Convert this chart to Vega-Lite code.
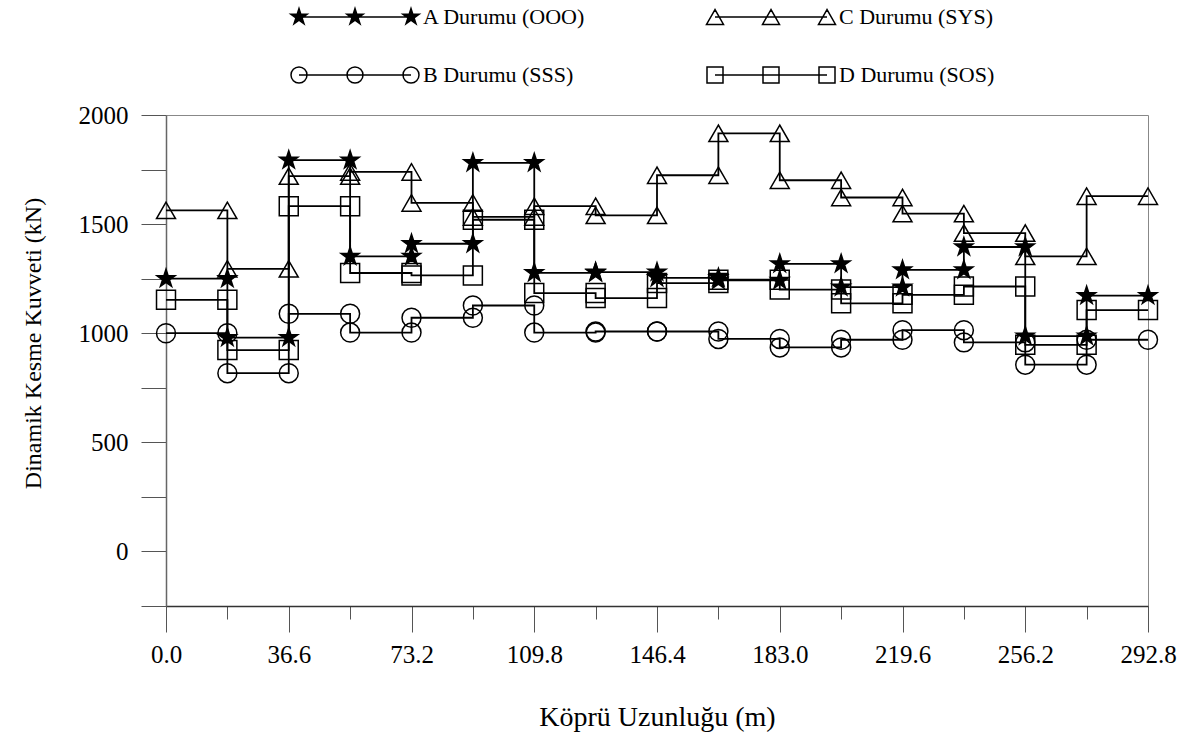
{
  "$schema": "https://vega.github.io/schema/vega-lite/v6.json",
  "autosize": {"type": "none"},
  "padding": {"left": 166, "top": 115, "right": 42, "bottom": 132},
  "width": 982,
  "height": 491,
  "background": "white",
  "config": {"view": {"stroke": "#888", "strokeWidth": 1}, "font": "Liberation Serif"},
  "resolve": {"scale": {"shape": "independent", "fill": "independent"}},
  "data": {"values": [
    {"s":"A","x":0,"y":1250,"o":0},{"s":"A","x":18.3,"y":1250,"o":1},
    {"s":"A","x":18.3,"y":980,"o":2},{"s":"A","x":36.6,"y":980,"o":3},
    {"s":"A","x":36.6,"y":1793,"o":4},{"s":"A","x":54.9,"y":1793,"o":5},
    {"s":"A","x":54.9,"y":1352,"o":6},{"s":"A","x":73.2,"y":1352,"o":7},
    {"s":"A","x":73.2,"y":1410,"o":8},{"s":"A","x":91.5,"y":1410,"o":9},
    {"s":"A","x":91.5,"y":1781,"o":10},{"s":"A","x":109.8,"y":1781,"o":11},
    {"s":"A","x":109.8,"y":1277,"o":12},{"s":"A","x":128.1,"y":1277,"o":13},
    {"s":"A","x":128.1,"y":1280,"o":14},{"s":"A","x":146.4,"y":1280,"o":15},
    {"s":"A","x":146.4,"y":1254,"o":16},{"s":"A","x":164.7,"y":1254,"o":17},
    {"s":"A","x":164.7,"y":1242,"o":18},{"s":"A","x":183,"y":1242,"o":19},
    {"s":"A","x":183,"y":1318,"o":20},{"s":"A","x":201.3,"y":1318,"o":21},
    {"s":"A","x":201.3,"y":1211,"o":22},{"s":"A","x":219.6,"y":1211,"o":23},
    {"s":"A","x":219.6,"y":1290,"o":24},{"s":"A","x":237.9,"y":1290,"o":25},
    {"s":"A","x":237.9,"y":1395,"o":26},{"s":"A","x":256.2,"y":1395,"o":27},
    {"s":"A","x":256.2,"y":987,"o":28},{"s":"A","x":274.5,"y":987,"o":29},
    {"s":"A","x":274.5,"y":1172,"o":30},{"s":"A","x":292.8,"y":1172,"o":31},

    {"s":"B","x":0,"y":1000,"o":0},{"s":"B","x":18.3,"y":1000,"o":1},
    {"s":"B","x":18.3,"y":817,"o":2},{"s":"B","x":36.6,"y":817,"o":3},
    {"s":"B","x":36.6,"y":1089,"o":4},{"s":"B","x":54.9,"y":1089,"o":5},
    {"s":"B","x":54.9,"y":1003,"o":6},{"s":"B","x":73.2,"y":1003,"o":7},
    {"s":"B","x":73.2,"y":1071,"o":8},{"s":"B","x":91.5,"y":1071,"o":9},
    {"s":"B","x":91.5,"y":1127,"o":10},{"s":"B","x":109.8,"y":1127,"o":11},
    {"s":"B","x":109.8,"y":1003,"o":12},{"s":"B","x":128.1,"y":1003,"o":13},
    {"s":"B","x":128.1,"y":1008,"o":14},{"s":"B","x":146.4,"y":1008,"o":15},
    {"s":"B","x":146.4,"y":1008,"o":16},{"s":"B","x":164.7,"y":1008,"o":17},
    {"s":"B","x":164.7,"y":974,"o":18},{"s":"B","x":183,"y":974,"o":19},
    {"s":"B","x":183,"y":935,"o":20},{"s":"B","x":201.3,"y":935,"o":21},
    {"s":"B","x":201.3,"y":970,"o":22},{"s":"B","x":219.6,"y":970,"o":23},
    {"s":"B","x":219.6,"y":1014,"o":24},{"s":"B","x":237.9,"y":1014,"o":25},
    {"s":"B","x":237.9,"y":958,"o":26},{"s":"B","x":256.2,"y":958,"o":27},
    {"s":"B","x":256.2,"y":856,"o":28},{"s":"B","x":274.5,"y":856,"o":29},
    {"s":"B","x":274.5,"y":970,"o":30},{"s":"B","x":292.8,"y":970,"o":31},

    {"s":"C","x":0,"y":1563,"o":0},{"s":"C","x":18.3,"y":1563,"o":1},
    {"s":"C","x":18.3,"y":1295,"o":2},{"s":"C","x":36.6,"y":1295,"o":3},
    {"s":"C","x":36.6,"y":1720,"o":4},{"s":"C","x":54.9,"y":1720,"o":5},
    {"s":"C","x":54.9,"y":1739,"o":6},{"s":"C","x":73.2,"y":1739,"o":7},
    {"s":"C","x":73.2,"y":1597,"o":8},{"s":"C","x":91.5,"y":1597,"o":9},
    {"s":"C","x":91.5,"y":1533,"o":10},{"s":"C","x":109.8,"y":1533,"o":11},
    {"s":"C","x":109.8,"y":1582,"o":12},{"s":"C","x":128.1,"y":1582,"o":13},
    {"s":"C","x":128.1,"y":1540,"o":14},{"s":"C","x":146.4,"y":1540,"o":15},
    {"s":"C","x":146.4,"y":1724,"o":16},{"s":"C","x":164.7,"y":1724,"o":17},
    {"s":"C","x":164.7,"y":1916,"o":18},{"s":"C","x":183,"y":1916,"o":19},
    {"s":"C","x":183,"y":1701,"o":20},{"s":"C","x":201.3,"y":1701,"o":21},
    {"s":"C","x":201.3,"y":1622,"o":22},{"s":"C","x":219.6,"y":1622,"o":23},
    {"s":"C","x":219.6,"y":1548,"o":24},{"s":"C","x":237.9,"y":1548,"o":25},
    {"s":"C","x":237.9,"y":1459,"o":26},{"s":"C","x":256.2,"y":1459,"o":27},
    {"s":"C","x":256.2,"y":1352,"o":28},{"s":"C","x":274.5,"y":1352,"o":29},
    {"s":"C","x":274.5,"y":1628,"o":30},{"s":"C","x":292.8,"y":1628,"o":31},

    {"s":"D","x":0,"y":1153,"o":0},{"s":"D","x":18.3,"y":1153,"o":1},
    {"s":"D","x":18.3,"y":923,"o":2},{"s":"D","x":36.6,"y":923,"o":3},
    {"s":"D","x":36.6,"y":1582,"o":4},{"s":"D","x":54.9,"y":1582,"o":5},
    {"s":"D","x":54.9,"y":1276,"o":6},{"s":"D","x":73.2,"y":1276,"o":7},
    {"s":"D","x":73.2,"y":1265,"o":8},{"s":"D","x":91.5,"y":1265,"o":9},
    {"s":"D","x":91.5,"y":1520,"o":10},{"s":"D","x":109.8,"y":1520,"o":11},
    {"s":"D","x":109.8,"y":1184,"o":12},{"s":"D","x":128.1,"y":1184,"o":13},
    {"s":"D","x":128.1,"y":1161,"o":14},{"s":"D","x":146.4,"y":1161,"o":15},
    {"s":"D","x":146.4,"y":1230,"o":16},{"s":"D","x":164.7,"y":1230,"o":17},
    {"s":"D","x":164.7,"y":1245,"o":18},{"s":"D","x":183,"y":1245,"o":19},
    {"s":"D","x":183,"y":1200,"o":20},{"s":"D","x":201.3,"y":1200,"o":21},
    {"s":"D","x":201.3,"y":1137,"o":22},{"s":"D","x":219.6,"y":1137,"o":23},
    {"s":"D","x":219.6,"y":1176,"o":24},{"s":"D","x":237.9,"y":1176,"o":25},
    {"s":"D","x":237.9,"y":1214,"o":26},{"s":"D","x":256.2,"y":1214,"o":27},
    {"s":"D","x":256.2,"y":947,"o":28},{"s":"D","x":274.5,"y":947,"o":29},
    {"s":"D","x":274.5,"y":1106,"o":30},{"s":"D","x":292.8,"y":1106,"o":31}
  ]},
  "layer": [
    {
      "mark": {"type": "line", "color": "black", "strokeWidth": 1.8},
      "encoding": {
        "x": {
          "field": "x", "type": "quantitative",
          "scale": {"domain": [0, 292.8], "nice": false, "zero": false},
          "axis": {
            "title": "Köprü Uzunluğu (m)",
            "values": [0, 18.3, 36.6, 54.9, 73.2, 91.5, 109.8, 128.1, 146.4, 164.7, 183, 201.3, 219.6, 237.9, 256.2, 274.5, 292.8],
            "format": ".1f",
            "labelExpr": "round(datum.value/18.3) % 2 == 0 ? datum.label : ''",
            "tickSize": {"condition": {"test": "round(datum.value/18.3) % 2 == 0", "value": 26}, "value": 13},
            "tickColor": "#555", "tickWidth": 1,
            "domainColor": "#333", "domainWidth": 1.5,
            "labelFont": "Liberation Serif", "labelFontSize": 25, "labelColor": "black",
            "labelPadding": 10, "labelFlush": false, "labelOverlap": false,
            "grid": false,
            "titleFont": "Liberation Serif", "titleFontSize": 28, "titleFontWeight": "normal", "titleColor": "black",
            "titleY": 111, "titleBaseline": "middle"
          }
        },
        "y": {
          "field": "y", "type": "quantitative",
          "scale": {"domain": [-250, 2000], "nice": false, "zero": false},
          "axis": {
            "title": "Dinamik Kesme Kuvveti (kN)",
            "values": [-250, 0, 250, 500, 750, 1000, 1250, 1500, 1750, 2000],
            "format": "d",
            "labelExpr": "datum.value >= 0 && datum.value % 500 == 0 ? datum.label : ''",
            "tickSize": 25, "tickColor": "#555", "tickWidth": 1,
            "domainColor": "#666", "domainWidth": 1.5,
            "labelFont": "Liberation Serif", "labelFontSize": 25, "labelColor": "black",
            "labelPadding": 13, "labelFlush": false, "labelOverlap": false,
            "grid": false,
            "titleFont": "Liberation Serif", "titleFontSize": 24, "titleFontWeight": "normal", "titleColor": "black",
            "titleX": -133, "titleY": 228, "titleBaseline": "middle"
          }
        },
        "detail": {"field": "s"},
        "order": {"field": "o", "type": "quantitative"}
      }
    },
    {
      "mark": {"type": "point", "filled": false, "stroke": "black", "strokeWidth": 1.5, "size": 360, "opacity": 1},
      "encoding": {
        "x": {"field": "x", "type": "quantitative"},
        "y": {"field": "y", "type": "quantitative"},
        "shape": {
          "field": "s", "type": "nominal",
          "scale": {"domain": ["A", "B", "C", "D"], "range": ["M0,-1L0.2245,-0.309L0.951,-0.309L0.363,0.118L0.588,0.809L0,0.382L-0.588,0.809L-0.363,0.118L-0.951,-0.309L-0.2245,-0.309Z", "circle", "triangle-up", "square"]},
          "legend": null
        },
        "fill": {
          "field": "s", "type": "nominal",
          "scale": {"domain": ["A", "B", "C", "D"], "range": ["black", "transparent", "transparent", "transparent"]},
          "legend": null
        }
      }
    },
    {
      "transform": [{"filter": "datum.o < 0"}],
      "mark": {"type": "point", "filled": false, "stroke": "black", "strokeWidth": 1.5, "size": 400, "opacity": 1},
      "encoding": {
        "x": {"field": "x", "type": "quantitative"},
        "y": {"field": "y", "type": "quantitative"},
        "shape": {
          "field": "s", "type": "nominal",
          "scale": {"domain": ["A", "B", "C", "D"], "range": [
            "M0,0L11.2,0M0,-0.85l0.191,0.587l0.618,0l-0.5,0.363l0.191,0.587l-0.5,-0.363l-0.5,0.363l0.191,-0.587l-0.5,-0.363l0.618,0zM0,-0.65l0.146,0.449l0.472,0l-0.382,0.278l0.146,0.449l-0.382,-0.278l-0.382,0.278l0.146,-0.449l-0.382,-0.278l0.472,0zM0,-0.45l0.101,0.311l0.327,0l-0.265,0.192l0.101,0.311l-0.265,-0.192l-0.265,0.192l0.101,-0.311l-0.265,-0.192l0.327,0zM0,-0.25l0.056,0.173l0.182,0l-0.147,0.107l0.056,0.173l-0.147,-0.107l-0.147,0.107l0.056,-0.173l-0.147,-0.107l0.182,0zM0,-0.1l0.022,0.069l0.073,0l-0.059,0.043l0.023,0.069l-0.059,-0.043l-0.059,0.043l0.023,-0.069l-0.059,-0.043l0.073,0zM5.6,-0.85l0.191,0.587l0.618,0l-0.5,0.363l0.191,0.587l-0.5,-0.363l-0.5,0.363l0.191,-0.587l-0.5,-0.363l0.618,0zM5.6,-0.65l0.146,0.449l0.472,0l-0.382,0.278l0.146,0.449l-0.382,-0.278l-0.382,0.278l0.146,-0.449l-0.382,-0.278l0.472,0zM5.6,-0.45l0.101,0.311l0.327,0l-0.265,0.192l0.101,0.311l-0.265,-0.192l-0.265,0.192l0.101,-0.311l-0.265,-0.192l0.327,0zM5.6,-0.25l0.056,0.173l0.182,0l-0.147,0.107l0.056,0.173l-0.147,-0.107l-0.147,0.107l0.056,-0.173l-0.147,-0.107l0.182,0zM5.6,-0.1l0.022,0.069l0.073,0l-0.059,0.043l0.023,0.069l-0.059,-0.043l-0.059,0.043l0.023,-0.069l-0.059,-0.043l0.073,0zM11.2,-0.85l0.191,0.587l0.618,0l-0.5,0.363l0.191,0.587l-0.5,-0.363l-0.5,0.363l0.191,-0.587l-0.5,-0.363l0.618,0zM11.2,-0.65l0.146,0.449l0.472,0l-0.382,0.278l0.146,0.449l-0.382,-0.278l-0.382,0.278l0.146,-0.449l-0.382,-0.278l0.472,0zM11.2,-0.45l0.101,0.311l0.327,0l-0.265,0.192l0.101,0.311l-0.265,-0.192l-0.265,0.192l0.101,-0.311l-0.265,-0.192l0.327,0zM11.2,-0.25l0.056,0.173l0.182,0l-0.147,0.107l0.056,0.173l-0.147,-0.107l-0.147,0.107l0.056,-0.173l-0.147,-0.107l0.182,0zM11.2,-0.1l0.022,0.069l0.073,0l-0.059,0.043l0.023,0.069l-0.059,-0.043l-0.059,0.043l0.023,-0.069l-0.059,-0.043l0.073,0z",
            "M0,0L11.2,0M0.8,0A0.8,0.8,0,1,1,-0.8,0A0.8,0.8,0,1,1,0.8,0ZM6.4,0A0.8,0.8,0,1,1,4.8,0A0.8,0.8,0,1,1,6.4,0ZM12,0A0.8,0.8,0,1,1,10.4,0A0.8,0.8,0,1,1,12,0Z",
            "M0,0L11.2,0M0,-0.74L-0.85,0.74L0.85,0.74ZM5.6,-0.74L4.75,0.74L6.45,0.74ZM11.2,-0.74L10.35,0.74L12.05,0.74Z",
            "M0,0L11.2,0M-0.8,-0.8L0.8,-0.8L0.8,0.8L-0.8,0.8ZM4.8,-0.8L6.4,-0.8L6.4,0.8L4.8,0.8ZM10.4,-0.8L12,-0.8L12,0.8L10.4,0.8Z"
          ]},
          "legend": {
            "title": null, "orient": "none", "legendX": 122, "legendY": -109,
            "values": ["A", "B", "C", "D"],
            "columns": 2, "columnPadding": 117, "rowPadding": 36, "padding": 0,
            "symbolSize": 400, "symbolStrokeWidth": 1.5, "symbolStrokeColor": "black", "symbolFillColor": "transparent", "symbolOpacity": 1,
            "labelOffset": 113, "labelLimit": 400, "labelFont": "Liberation Serif", "labelFontSize": 22, "labelColor": "black",
            "labelExpr": "datum.label == 'A' ? 'A Durumu (OOO)' : datum.label == 'B' ? 'B Durumu (SSS)' : datum.label == 'C' ? 'C Durumu (SYS)' : 'D Durumu (SOS)'"
          }
        }
      }
    }
  ]
}
